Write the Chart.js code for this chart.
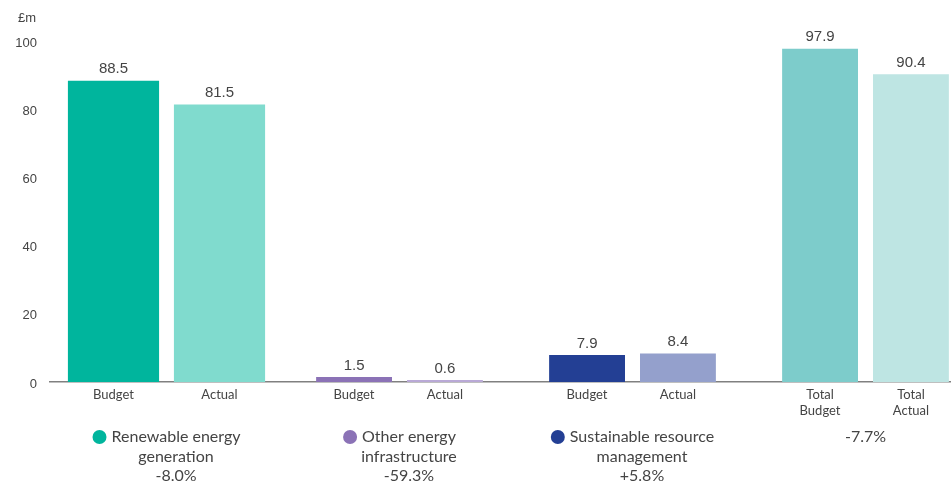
<!DOCTYPE html>
<html>
<head>
<meta charset="utf-8">
<script src="https://cdn.jsdelivr.net/npm/chart.js@4/dist/chart.umd.min.js"></script>
<style>
  html, body { margin: 0; padding: 0; background: #fff; overflow: hidden; }
  #wrap { position: relative; width: 982px; height: 481px; }
</style>
</head>
<body>
<div id="wrap"><canvas id="spendChart"></canvas></div>
<script>
// budget vs actual spend, £m
const groupNames = [['Renewable energy', 'generation'], ['Other energy', 'infrastructure'], ['Sustainable resource', 'management'], []];
const variance = ['-8.0%', '-59.3%', '+5.8%', '-7.7%'];
const budget = [88.5, 1.5, 7.9, 97.9];
const actual = [81.5, 0.6, 8.4, 90.4];
const budgetNames = [['Budget'], ['Budget'], ['Budget'], ['Total', 'Budget']];
const actualNames = [['Actual'], ['Actual'], ['Actual'], ['Total', 'Actual']];
const yTicks = [0, 20, 40, 60, 80, 100];

const budgetColors = ['#00b59d', '#8b72b6', '#233f94', '#7dcccb'];
const actualColors = ['#80dbce', '#b9a9d6', '#94a0cc', '#bee5e3'];
const dotColors = ['#00b59d', '#8b72b6', '#233f94', null];

const NUM_FONT = '"Liberation Sans", Arial, sans-serif';
const TEXT_FONT = 'Lato, "Noto Sans", sans-serif';
const TEXT = '#444';

// first group is drawn with wider bars, so it gets its own pair of datasets
const onlyFirst = arr => arr.map((v, i) => (i === 0 ? v : null));
const skipFirst = arr => arr.map((v, i) => (i === 0 ? null : v));

const wide = { categoryPercentage: 0.91, barPercentage: 0.86 };
const narrow = { categoryPercentage: 0.78, barPercentage: 0.835 };

const datasets = [
  { label: 'Budget', kind: 'budget', data: onlyFirst(budget), backgroundColor: budgetColors, ...wide },
  { label: 'Actual', kind: 'actual', data: onlyFirst(actual), backgroundColor: actualColors, ...wide },
  { label: 'Budget', kind: 'budget', data: skipFirst(budget), backgroundColor: budgetColors, ...narrow },
  { label: 'Actual', kind: 'actual', data: skipFirst(actual), backgroundColor: actualColors, ...narrow }
];

const labelPlugin = {
  id: 'labels',
  afterDatasetsDraw(chart) {
    const ctx = chart.ctx;
    const xScale = chart.scales.x;
    const base = chart.scales.y.getPixelForValue(0);
    ctx.save();

    // unit label
    ctx.fillStyle = TEXT;
    ctx.font = '13px ' + NUM_FONT;
    ctx.textAlign = 'left';
    ctx.textBaseline = 'middle';
    ctx.fillText('£m', 18, 18);

    chart.data.datasets.forEach((ds, di) => {
      const meta = chart.getDatasetMeta(di);
      meta.data.forEach((bar, i) => {
        const v = ds.data[i];
        if (v === null) return;
        ctx.fillStyle = TEXT;
        ctx.font = '15px ' + NUM_FONT;
        ctx.textAlign = 'center';
        ctx.textBaseline = 'bottom';
        ctx.fillText(v.toFixed(1), bar.x, bar.y - 4);

        const names = ds.kind === 'budget' ? budgetNames[i] : actualNames[i];
        ctx.font = '13px ' + TEXT_FONT;
        ctx.textBaseline = 'middle';
        names.forEach((t, li) => ctx.fillText(t, bar.x, base + 13 + li * 16));
      });
    });

    // group captions with coloured markers
    ctx.font = '16px ' + TEXT_FONT;
    ctx.textBaseline = 'middle';
    groupNames.forEach((lines, i) => {
      const cx = xScale.getPixelForValue(i);
      const rows = lines.concat([variance[i]]);
      let textCx = cx;
      if (dotColors[i]) {
        const w = ctx.measureText(rows[0]).width;
        const left = cx - (w + 19) / 2;
        ctx.fillStyle = dotColors[i];
        ctx.beginPath();
        ctx.arc(left + 7, base + 55, 7, 0, Math.PI * 2);
        ctx.fill();
        textCx = left + 19 + w / 2;
      }
      ctx.fillStyle = TEXT;
      ctx.textAlign = 'center';
      rows.forEach((t, li) => ctx.fillText(t, textCx, base + 55 + li * 19.5));
    });
    ctx.restore();
  }
};

new Chart(document.getElementById('spendChart'), {
  type: 'bar',
  data: { labels: ['Renewable', 'Other', 'Sustainable', 'Total'], datasets },
  options: {
    responsive: true,
    maintainAspectRatio: false,
    animation: false,
    skipNull: true,
    layout: { padding: { top: 41.5, bottom: 99, left: 0, right: 0 } },
    plugins: { legend: { display: false }, tooltip: { enabled: false } },
    scales: {
      x: {
        grid: { display: false, drawTicks: false },
        border: { display: true, color: '#808080', width: 1.5 },
        ticks: { display: false }
      },
      y: {
        min: 0,
        max: 100,
        afterBuildTicks: s => { s.ticks = yTicks.map(v => ({ value: v })); },
        afterFit: s => { s.width = 50; },
        grid: { display: false, drawTicks: false },
        border: { display: false },
        ticks: { color: TEXT, padding: 13, labelOffset: 2, font: { family: NUM_FONT, size: 13 } }
      }
    }
  },
  plugins: [labelPlugin]
});
</script>
</body>
</html>
